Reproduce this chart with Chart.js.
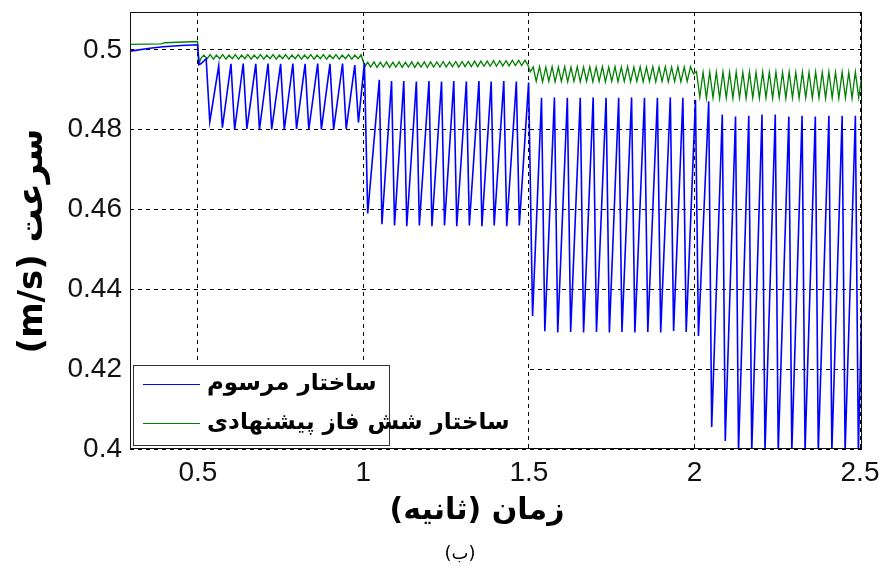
<!DOCTYPE html>
<html>
<head>
<meta charset="utf-8">
<script src="https://cdn.jsdelivr.net/npm/chart.js@4.4.1/dist/chart.umd.min.js"></script>
<style>
html, body { margin: 0; padding: 0; background: #fff; }
</style>
</head>
<body>
<canvas id="speedChart" width="884" height="569"></canvas>
<script>
// tick labels
var xTicks = [0.5, 1, 1.5, 2, 2.5];
var yTicks = [0.4, 0.42, 0.44, 0.46, 0.48, 0.5];
var seriesNames = ['ساختار مرسوم', 'ساختار شش فاز پیشنهادی'];

// conventional structure: [time s, speed m/s], peaks and troughs
var bluePoints = [
	[0.295, 0.4997], [0.355, 0.5004], [0.395, 0.5008], [0.45, 0.5011], [0.499, 0.5013],
	[0.503, 0.4963], [0.510, 0.4966], [0.525, 0.4978], [0.536, 0.4820],
	[0.563, 0.4960], [0.574, 0.4805], [0.600, 0.4965], [0.611, 0.4800],
	[0.637, 0.4966], [0.648, 0.4802], [0.675, 0.4965], [0.686, 0.4800],
	[0.712, 0.4966], [0.723, 0.4801], [0.750, 0.4965], [0.761, 0.4800],
	[0.787, 0.4966], [0.798, 0.4802], [0.824, 0.4965], [0.835, 0.4800],
	[0.862, 0.4966], [0.873, 0.4801], [0.899, 0.4965], [0.910, 0.4800],
	[0.937, 0.4966], [0.948, 0.4802], [0.974, 0.4962], [0.985, 0.4818],
	[1.003, 0.4968], [1.013, 0.4590],
	[1.048, 0.4925], [1.056, 0.4563], [1.085, 0.4922], [1.094, 0.4560],
	[1.122, 0.4922], [1.131, 0.4558], [1.160, 0.4921], [1.169, 0.4560],
	[1.198, 0.4922], [1.207, 0.4558], [1.236, 0.4921], [1.245, 0.4560],
	[1.273, 0.4922], [1.282, 0.4558], [1.311, 0.4921], [1.320, 0.4560],
	[1.349, 0.4922], [1.358, 0.4558], [1.386, 0.4921], [1.395, 0.4560],
	[1.424, 0.4922], [1.433, 0.4558], [1.462, 0.4921], [1.471, 0.4560],
	[1.499, 0.4918], [1.511, 0.4333],
	[1.538, 0.4880], [1.548, 0.4295], [1.577, 0.4881], [1.587, 0.4292],
	[1.616, 0.4880], [1.626, 0.4293], [1.655, 0.4880], [1.665, 0.4292],
	[1.694, 0.4881], [1.704, 0.4293], [1.733, 0.4880], [1.743, 0.4292],
	[1.771, 0.4880], [1.781, 0.4293], [1.810, 0.4881], [1.820, 0.4292],
	[1.849, 0.4880], [1.859, 0.4293], [1.888, 0.4880], [1.898, 0.4292],
	[1.927, 0.4881], [1.937, 0.4296], [1.965, 0.4880], [1.975, 0.4293],
	[2.003, 0.4875], [2.012, 0.4283],
	[2.043, 0.4871], [2.052, 0.4055], [2.084, 0.4838], [2.093, 0.4020],
	[2.124, 0.4833], [2.133, 0.3995], [2.164, 0.4835], [2.173, 0.3995],
	[2.204, 0.4838], [2.213, 0.3995], [2.244, 0.4838], [2.253, 0.3995],
	[2.285, 0.4833], [2.294, 0.3995], [2.325, 0.4835], [2.334, 0.3995],
	[2.365, 0.4833], [2.374, 0.3995], [2.406, 0.4835], [2.415, 0.3995],
	[2.446, 0.4835], [2.455, 0.3995], [2.486, 0.4835], [2.495, 0.3995],
	[2.506, 0.4380]
];

// proposed six-phase structure: [time s, speed m/s]
var greenPoints = [
	[0.295, 0.5014], [0.390, 0.5015], [0.400, 0.5018], [0.499, 0.5021],
	[0.504, 0.4968], [0.510, 0.4980],
	[0.518, 0.4987], [0.528, 0.4978], [0.537, 0.4988], [0.547, 0.4977], [0.556, 0.4987], [0.566, 0.4978],
	[0.575, 0.4988], [0.585, 0.4977], [0.594, 0.4987], [0.604, 0.4978], [0.613, 0.4988], [0.623, 0.4977],
	[0.632, 0.4987], [0.642, 0.4978], [0.651, 0.4988], [0.661, 0.4977], [0.670, 0.4987], [0.680, 0.4978],
	[0.689, 0.4988], [0.699, 0.4977], [0.708, 0.4987], [0.718, 0.4978], [0.727, 0.4988], [0.737, 0.4977],
	[0.746, 0.4987], [0.756, 0.4978], [0.765, 0.4988], [0.775, 0.4977], [0.784, 0.4987], [0.794, 0.4978],
	[0.803, 0.4988], [0.813, 0.4977], [0.822, 0.4987], [0.832, 0.4978], [0.841, 0.4988], [0.851, 0.4977],
	[0.860, 0.4987], [0.870, 0.4978], [0.879, 0.4988], [0.889, 0.4977], [0.898, 0.4987], [0.908, 0.4978],
	[0.917, 0.4988], [0.927, 0.4977], [0.936, 0.4987], [0.946, 0.4978], [0.955, 0.4988], [0.965, 0.4977],
	[0.974, 0.4987], [0.984, 0.4978], [0.993, 0.4988],
	[1.004, 0.4958],
	[1.013, 0.4969], [1.022, 0.4957], [1.032, 0.4970], [1.041, 0.4956], [1.051, 0.4969], [1.060, 0.4957],
	[1.070, 0.4970], [1.079, 0.4956], [1.089, 0.4969], [1.098, 0.4957], [1.108, 0.4970], [1.117, 0.4956],
	[1.127, 0.4969], [1.136, 0.4957], [1.146, 0.4970], [1.155, 0.4956], [1.165, 0.4969], [1.174, 0.4957],
	[1.184, 0.4970], [1.193, 0.4956], [1.203, 0.4970], [1.212, 0.4957], [1.222, 0.4970], [1.231, 0.4957],
	[1.241, 0.4971], [1.250, 0.4957], [1.260, 0.4970], [1.269, 0.4958], [1.279, 0.4971], [1.288, 0.4957],
	[1.298, 0.4971], [1.307, 0.4958], [1.317, 0.4971], [1.326, 0.4958], [1.336, 0.4972], [1.345, 0.4958],
	[1.355, 0.4972], [1.364, 0.4959], [1.374, 0.4972], [1.383, 0.4959], [1.393, 0.4973], [1.402, 0.4959],
	[1.412, 0.4973], [1.421, 0.4960], [1.431, 0.4973], [1.440, 0.4960], [1.450, 0.4974], [1.459, 0.4961],
	[1.469, 0.4974], [1.478, 0.4961], [1.488, 0.4974], [1.497, 0.4962],
	[1.504, 0.4945],
	[1.513, 0.4957], [1.522, 0.4921], [1.532, 0.4958], [1.541, 0.4920], [1.551, 0.4957], [1.560, 0.4921],
	[1.570, 0.4958], [1.579, 0.4920], [1.589, 0.4957], [1.598, 0.4921], [1.608, 0.4958], [1.617, 0.4920],
	[1.627, 0.4957], [1.636, 0.4921], [1.646, 0.4958], [1.655, 0.4920], [1.665, 0.4957], [1.674, 0.4921],
	[1.684, 0.4958], [1.693, 0.4920], [1.703, 0.4957], [1.712, 0.4921], [1.722, 0.4958], [1.731, 0.4920],
	[1.741, 0.4957], [1.750, 0.4921], [1.760, 0.4958], [1.769, 0.4920], [1.779, 0.4957], [1.788, 0.4921],
	[1.798, 0.4958], [1.807, 0.4920], [1.817, 0.4957], [1.826, 0.4921], [1.836, 0.4958], [1.845, 0.4920],
	[1.855, 0.4957], [1.864, 0.4921], [1.874, 0.4958], [1.883, 0.4920], [1.893, 0.4957], [1.902, 0.4921],
	[1.912, 0.4958], [1.921, 0.4920], [1.931, 0.4957], [1.940, 0.4921], [1.950, 0.4958], [1.959, 0.4920],
	[1.969, 0.4957], [1.978, 0.4921], [1.988, 0.4958], [1.997, 0.4940],
	[2.006, 0.4946], [2.016, 0.4882], [2.026, 0.4944], [2.036, 0.4879], [2.046, 0.4945], [2.056, 0.4880],
	[2.066, 0.4944], [2.076, 0.4879], [2.086, 0.4945], [2.096, 0.4880], [2.106, 0.4944], [2.116, 0.4879],
	[2.126, 0.4945], [2.136, 0.4880], [2.146, 0.4944], [2.156, 0.4879], [2.166, 0.4945], [2.176, 0.4880],
	[2.186, 0.4944], [2.196, 0.4879], [2.206, 0.4945], [2.216, 0.4880], [2.226, 0.4944], [2.236, 0.4879],
	[2.246, 0.4945], [2.256, 0.4880], [2.266, 0.4944], [2.276, 0.4879], [2.286, 0.4945], [2.296, 0.4880],
	[2.306, 0.4944], [2.316, 0.4879], [2.326, 0.4945], [2.336, 0.4880], [2.346, 0.4944], [2.356, 0.4879],
	[2.366, 0.4945], [2.376, 0.4880], [2.386, 0.4944], [2.396, 0.4879], [2.406, 0.4945], [2.416, 0.4880],
	[2.426, 0.4944], [2.436, 0.4879], [2.446, 0.4945], [2.456, 0.4880], [2.466, 0.4944], [2.476, 0.4879],
	[2.486, 0.4945], [2.496, 0.4880], [2.506, 0.4940]
];

var xTitle = 'زمان (ثانیه)';
var yTitle = 'سرعت (m/s)';
var caption = '(ب)';

function toXY(list) {
	return list.map(function (p) { return {x: p[0], y: p[1]}; });
}

var arabicFont = '"DejaVu Sans", "Noto Sans", sans-serif';

// frame, legend and titles drawn on top of the chart
var decorations = {
	id: 'decorations',
	afterDatasetsDraw: function (chart) {
		var ctx = chart.ctx;
		var a = chart.chartArea;
		ctx.save();
		ctx.strokeStyle = '#111';
		ctx.lineWidth = 1;
		ctx.strokeRect(Math.round(a.left) + 0.5, Math.round(a.top) + 0.5,
			Math.round(a.right - a.left) - 1, Math.round(a.bottom - a.top) - 1);

		// legend (background wider than its border, like the original)
		ctx.fillStyle = '#fff';
		ctx.fillRect(a.left + 1, 363, 395, 85);
		ctx.strokeStyle = '#333';
		ctx.strokeRect(133.5, 365.5, 256, 80);
		var sets = chart.data.datasets;
		var rows = [384, 423];
		ctx.font = 'bold 23px ' + arabicFont;
		ctx.textAlign = 'left';
		ctx.textBaseline = 'middle';
		ctx.direction = 'rtl';
		for (var i = 0; i < sets.length; i++) {
			ctx.strokeStyle = sets[i].borderColor;
			ctx.lineWidth = 1.2;
			ctx.beginPath();
			ctx.moveTo(143, rows[i] + 0.5);
			ctx.lineTo(200, rows[i] + 0.5);
			ctx.stroke();
			ctx.fillStyle = '#000';
			ctx.fillText(sets[i].label, 207, rows[i]);
		}
		ctx.restore();
	},
	afterDraw: function (chart) {
		var ctx = chart.ctx;
		ctx.save();
		ctx.direction = 'rtl';
		ctx.fillStyle = '#000';
		ctx.textAlign = 'center';
		ctx.textBaseline = 'middle';
		ctx.font = 'bold 30px ' + arabicFont;
		ctx.fillText(xTitle, 477, 511);
		ctx.font = '18px ' + arabicFont;
		ctx.fillText(caption, 460, 554);
		ctx.translate(33, 241);
		ctx.rotate(-Math.PI / 2);
		ctx.font = 'bold 34px ' + arabicFont;
		ctx.fillText(yTitle, 0, 0);
		ctx.restore();
	}
};

var tickFont = {family: '"Liberation Sans", Arial, sans-serif', size: 28};

var ctx = document.getElementById('speedChart').getContext('2d');
var chart = new Chart(ctx, {
	type: 'line',
	data: {
		datasets: [{
			label: seriesNames[0],
			data: toXY(bluePoints),
			borderColor: '#0000ff',
			borderWidth: 1.6,
			pointRadius: 0,
			tension: 0
		}, {
			label: seriesNames[1],
			data: toXY(greenPoints),
			borderColor: '#008000',
			borderWidth: 1.3,
			pointRadius: 0,
			tension: 0
		}]
	},
	options: {
		responsive: false,
		animation: false,
		events: [],
		layout: {padding: {left: 0, right: 22, top: 12, bottom: 0}},
		plugins: {legend: {display: false}, tooltip: {enabled: false}, title: {display: false}},
		scales: {
			x: {
				type: 'linear',
				min: 0.295,
				max: 2.506,
				afterBuildTicks: function (s) { s.ticks = xTicks.map(function (v) { return {value: v}; }); },
				afterFit: function (s) { s.height = 120; s.paddingLeft = 0; s.paddingRight = 0; },
				ticks: {font: tickFont, color: '#111', padding: 7, maxRotation: 0, autoSkip: false,
					callback: function (v) { return String(v); }},
				grid: {color: '#000', lineWidth: 1, drawTicks: false},
				border: {display: false, dash: [4, 4]}
			},
			y: {
				type: 'linear',
				min: 0.4,
				max: 0.5095,
				afterBuildTicks: function (s) { s.ticks = yTicks.map(function (v) { return {value: v}; }); },
				afterFit: function (s) { s.width = 130; s.paddingTop = 0; s.paddingBottom = 0; },
				ticks: {font: tickFont, color: '#111', padding: 8, autoSkip: false,
					callback: function (v) { return String(v); }},
				grid: {color: '#000', lineWidth: 1, drawTicks: false},
				border: {display: false, dash: [4, 4]}
			}
		}
	},
	plugins: [decorations]
});
</script>
</body>
</html>
